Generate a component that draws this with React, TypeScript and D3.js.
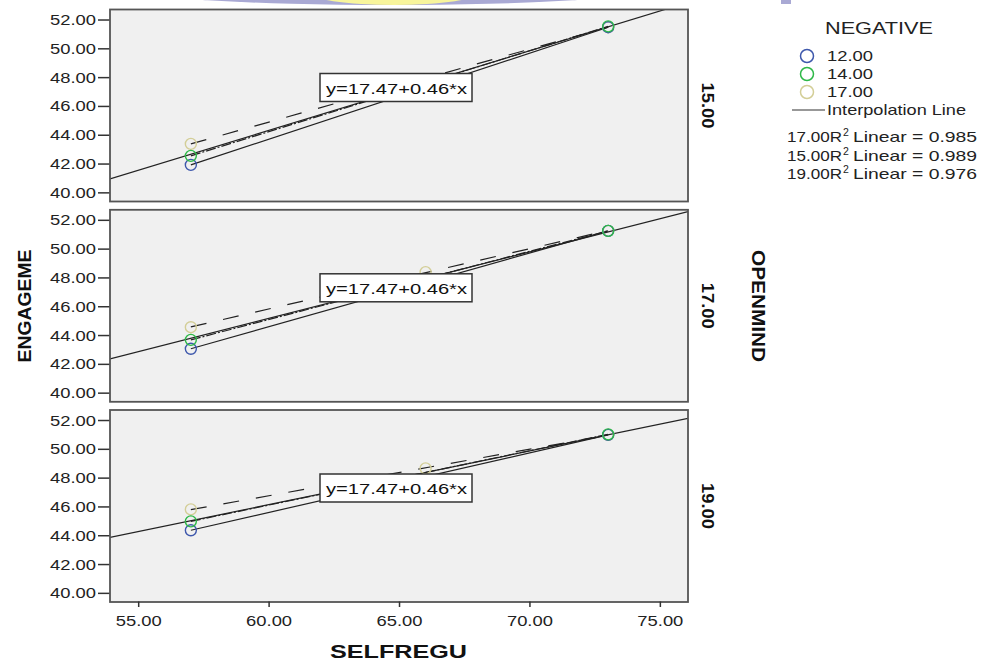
import React from "react";
import * as d3 from "d3";

// ---------- data ----------
const negativeGroups = ["12.00", "14.00", "17.00"];
const groupColors = ["#3e58ac", "#2eb848", "#d3ce97"];
const facetLabels = ["15.00", "17.00", "19.00"];
const yTicks = [40, 42, 44, 46, 48, 50, 52];
const xTicks = [55, 60, 65, 70, 75];

// [SELFREGU, ENGAGEME] points per OPENMIND facet, per NEGATIVE group
const open15_neg12: [number, number][] = [[57, 41.94], [73, 51.5]];
const open15_neg14: [number, number][] = [[57, 42.57], [73, 51.56]];
const open15_neg17: [number, number][] = [[57, 43.4], [73, 51.5]];

const open17_neg12: [number, number][] = [[57, 43.08], [73, 51.27]];
const open17_neg14: [number, number][] = [[57, 43.7], [73, 51.27]];
const open17_neg17: [number, number][] = [[57, 44.58], [66, 48.4], [73, 51.27]];

const open19_neg12: [number, number][] = [[57, 44.38], [73, 51.0]];
const open19_neg14: [number, number][] = [[57, 45.0], [73, 51.04]];
const open19_neg17: [number, number][] = [[57, 45.83], [66, 48.68], [73, 51.0]];

// overall fit line in each facet (intercept, slope)
const totalIntercepts = [11.16, 17.5, 23.8];
const totalSlopes = [0.553, 0.4616, 0.3727];
const fitLabel = "y=17.47+0.46*x";

const r2Facets = ["17.00", "15.00", "19.00"];
const r2Values = ["0.985", "0.989", "0.976"];

const panelsData = [
  [open15_neg12, open15_neg14, open15_neg17],
  [open17_neg12, open17_neg14, open17_neg17],
  [open19_neg12, open19_neg14, open19_neg17],
];

// ---------- layout ----------
const W = 987;
const H = 663;
const plotLeft = 110;
const plotRight = 688;
const panelTops = [9.5, 209.8, 410];
const panelH = 192;
const FONT = "'Liberation Sans', Arial, sans-serif";
const groupDash = ["none", "10,2,2,2", "16,17"];
const SG = "spacingAndGlyphs";

const xScale = d3.scaleLinear().domain([53.9, 76.06]).range([plotLeft, plotRight]);

function fit(pts: [number, number][]) {
  const mx = d3.mean(pts, (p) => p[0]) as number;
  const my = d3.mean(pts, (p) => p[1]) as number;
  let sxx = 0, sxy = 0;
  pts.forEach(([x, y]) => { sxx += (x - mx) ** 2; sxy += (x - mx) * (y - my); });
  const b = sxy / sxx;
  const a = my - b * mx;
  const [x0, x1] = d3.extent(pts, (p) => p[0]) as [number, number];
  return [[x0, a + b * x0], [x1, a + b * x1]] as [number, number][];
}

export default function App() {
  const line = d3.line<[number, number]>();
  return (
    <svg width={W} height={H} style={{ position: "absolute", left: 0, top: 0, background: "#fff" }} fontFamily={FONT}>
      {/* decorative artifact at top */}
      <ellipse cx={390} cy={-11} rx={258} ry={16} fill="#a9a9d4" />
      <ellipse cx={394} cy={-8} rx={86} ry={13} fill="#f8f59c" />
      <rect x={781} y={0} width={10} height={4} fill="#a9a9d4" />

      <defs>
        {panelTops.map((t, i) => (
          <clipPath id={`clip${i}`} key={i}>
            <rect x={plotLeft} y={t} width={plotRight - plotLeft} height={panelH} />
          </clipPath>
        ))}
      </defs>

      {panelTops.map((top, pi) => {
        const yScale = d3.scaleLinear().domain([39.4, 52.73]).range([top + panelH, top]);
        const a = totalIntercepts[pi];
        const b = totalSlopes[pi];
        const xd = xScale.domain();
        const totalPts: [number, number][] = xd.map((x) => [xScale(x), yScale(a + b * x)]);
        const groups = panelsData[pi];
        return (
          <g key={pi}>
            <rect x={plotLeft} y={top} width={plotRight - plotLeft} height={panelH} fill="#f0f0f0" />
            {yTicks.map((v) => (
              <g key={v}>
                <line x1={98} x2={plotLeft} y1={yScale(v)} y2={yScale(v)} stroke="#333" strokeWidth={1.5} />
                <text x={96} y={yScale(v) + 5} textAnchor="end" fontSize={14} textLength={46} lengthAdjust={SG} fill="#222">
                  {v.toFixed(2)}
                </text>
              </g>
            ))}
            <g clipPath={`url(#clip${pi})`}>
              <path d={line(totalPts) || ""} stroke="#222" strokeWidth={1.2} fill="none" />
              {groups.map((pts, gi) => {
                const seg = fit(pts).map(([x, y]) => [xScale(x), yScale(y)] as [number, number]);
                return (
                  <path key={gi} d={line(seg) || ""} stroke="#222" strokeWidth={1.2} fill="none"
                    strokeDasharray={groupDash[gi]} />
                );
              })}
              {[2, 0, 1].map((gi) =>
                groups[gi].map(([x, y], k) => (
                  <circle key={`${gi}-${k}`} cx={xScale(x)} cy={yScale(y)} r={5.5} fill="none"
                    stroke={groupColors[gi]} strokeWidth={1.4} />
                ))
              )}
            </g>
            <rect x={plotLeft} y={top} width={plotRight - plotLeft} height={panelH} fill="none" stroke="#555" strokeWidth={1.8} />
            {/* fit label */}
            <rect x={320} y={top + 64} width={152} height={28} fill="#fff" stroke="#333" strokeWidth={1.5} />
            <text x={326} y={top + 84} fontSize={15.5} textLength={141} lengthAdjust={SG} fill="#111">{fitLabel}</text>
            {/* facet label */}
            <text transform={`translate(702,${top + panelH / 2}) rotate(90)`} textAnchor="middle" fontSize={17}
              fontWeight="bold" textLength={46} lengthAdjust={SG} fill="#111">{facetLabels[pi]}</text>
          </g>
        );
      })}

      {/* x axis */}
      {xTicks.map((v) => (
        <g key={v}>
          <line x1={xScale(v)} x2={xScale(v)} y1={601.5} y2={607} stroke="#333" strokeWidth={1.5} />
          <text x={xScale(v)} y={626} textAnchor="middle" fontSize={14} textLength={46} lengthAdjust={SG} fill="#222">
            {v.toFixed(2)}
          </text>
        </g>
      ))}
      <text x={398.5} y={658} textAnchor="middle" fontSize={19} fontWeight="bold" textLength={137} lengthAdjust={SG} fill="#111">SELFREGU</text>
      <text transform="translate(31,306) rotate(-90)" textAnchor="middle" fontSize={19} fontWeight="bold" textLength={113} lengthAdjust={SG} fill="#111">ENGAGEME</text>
      <text transform="translate(752,306) rotate(90)" textAnchor="middle" fontSize={19} fontWeight="bold" textLength={112} lengthAdjust={SG} fill="#111">OPENMIND</text>

      {/* legend */}
      <text x={825} y={34} fontSize={16.5} textLength={108} lengthAdjust={SG} fill="#222">NEGATIVE</text>
      {negativeGroups.map((g, i) => {
        const cy = 56 + i * 18;
        return (
          <g key={g}>
            <circle cx={807} cy={cy} r={6.5} fill="none" stroke={groupColors[i]} strokeWidth={1.5} />
            <text x={827} y={cy + 5} fontSize={15} textLength={46} lengthAdjust={SG} fill="#222">{g}</text>
          </g>
        );
      })}
      <line x1={792} x2={825} y1={110} y2={110} stroke="#333" strokeWidth={1.2} />
      <text x={827} y={115} fontSize={15} textLength={139} lengthAdjust={SG} fill="#222">Interpolation Line</text>
      {r2Facets.map((f, i) => {
        const y = 142 + i * 18.5;
        return (
          <g key={f}>
            <text x={787} y={y} fontSize={14.5} textLength={55} lengthAdjust={SG} fill="#222">{f + "R"}</text>
            <text x={843} y={y - 6} fontSize={10.5} fill="#222">2</text>
            <text x={853} y={y} fontSize={14.5} textLength={124} lengthAdjust={SG} fill="#222">{"Linear = " + r2Values[i]}</text>
          </g>
        );
      })}
    </svg>
  );
}
